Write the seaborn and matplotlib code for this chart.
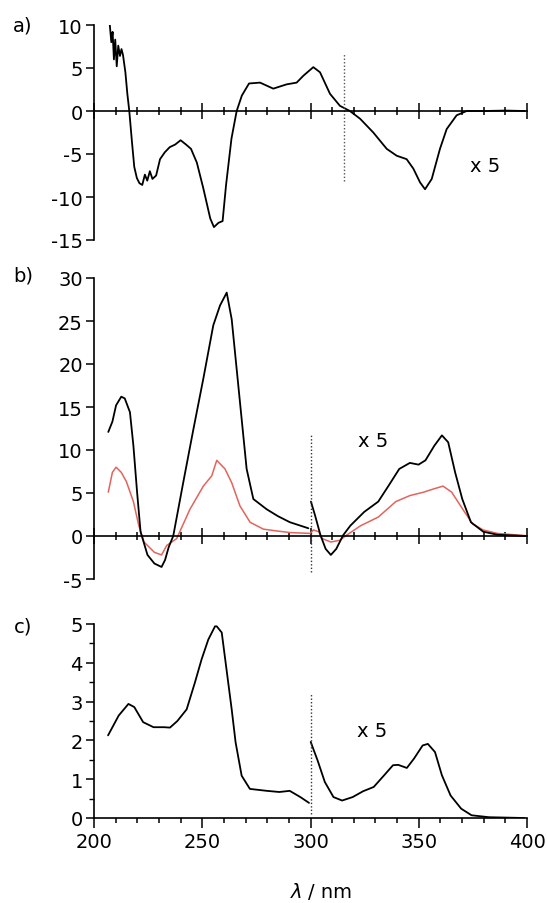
import matplotlib
matplotlib.use("Agg")
import matplotlib.pyplot as plt
import seaborn as sns
from matplotlib.ticker import MultipleLocator

sns.set_theme(style="white")
plt.rcParams['font.family'] = ['DejaVu Sans']
plt.rcParams['axes.unicode_minus'] = False
for k in ("text.color", "axes.labelcolor", "xtick.color", "ytick.color", "axes.edgecolor"):
    plt.rcParams[k] = "black"

# ---------------- data ----------------
# panel a (CD, x5 beyond 316 nm)
a_nm = [207.3, 208.0, 208.6, 209.2, 209.8, 210.5, 211.2, 212.0, 212.7, 213.4, 214.5, 215.4, 216.3,
        217.5, 218.6, 219.8, 221.0, 222.3, 223.5, 224.6, 225.8, 227.0, 228.7, 230.5, 232.7, 235.0,
        237.5, 240.0, 242.5, 244.8, 247.5, 250.5, 253.7, 255.4, 257.5, 259.4, 261.0, 263.5, 265.9,
        268.3, 271.6, 276.7, 282.8, 289.0, 293.6, 296.7, 301.3, 304.4, 309.0, 313.6, 318.2, 322.9,
        329.0, 335.2, 339.8, 344.4, 347.5, 350.6, 352.9, 356.0, 359.8, 362.9, 367.5, 372.1,
        380.0, 390.0, 399.0]
a_val = [10.0, 8.0, 9.2, 6.0, 8.3, 5.2, 7.6, 6.4, 7.2, 6.5, 4.5, 2.0, 0.0,
         -3.5, -6.5, -7.8, -8.4, -8.6, -7.4, -8.1, -7.0, -7.9, -7.5, -5.6, -4.8, -4.2,
         -3.9, -3.4, -3.9, -4.4, -6.0, -9.0, -12.5, -13.5, -13.0, -12.8, -8.6, -3.2, 0.0,
         1.8, 3.2, 3.3, 2.6, 3.1, 3.3, 4.1, 5.1, 4.5, 2.0, 0.6, 0.0, -0.9,
         -2.5, -4.4, -5.2, -5.6, -6.7, -8.3, -9.1, -7.9, -4.4, -2.1, -0.5, 0.0,
         0.0, 0.05, 0.0]

# panel b black
b1_nm = [206.6, 208.5, 210.2, 212.6, 214.2, 216.6, 218.2, 219.9, 221.5, 224.7, 227.9, 231.2,
         232.8, 234.5, 236.6, 241.2, 245.9, 250.5, 255.1, 258.2, 261.3, 263.6, 265.9, 268.2,
         270.5, 273.6, 279.8, 285.0, 290.5, 299.0]
b1_val = [12.1, 13.3, 15.2, 16.2, 16.0, 14.4, 10.5, 5.1, 0.5, -2.2, -3.2, -3.6,
          -2.8, -1.3, 0.0, 6.2, 12.4, 18.3, 24.5, 26.8, 28.3, 25.2, 19.4, 13.6,
          7.8, 4.3, 3.1, 2.3, 1.6, 0.9]
b2_nm = [300.2, 302.1, 304.6, 307.0, 309.4, 311.9, 315.1, 318.4, 324.8, 331.3, 336.2, 341.0,
         345.9, 349.9, 353.1, 357.2, 360.7, 363.6, 366.8, 370.1, 374.1, 379.8, 386.3, 399.2]
b2_val = [4.0, 2.4, 0.1, -1.5, -2.2, -1.5, 0.1, 1.2, 2.8, 4.0, 5.9, 7.8,
          8.5, 8.3, 8.8, 10.5, 11.7, 10.9, 7.4, 4.3, 1.6, 0.5, 0.15, 0.0]
# panel b red
r_nm = [206.6, 208.5, 210.2, 212.6, 215.0, 218.2, 220.7, 223.1, 227.9, 231.2, 233.6, 238.2,
        244.3, 250.5, 254.4, 256.7, 260.5, 263.6, 267.4, 272.1, 278.2, 284.0, 290.5,
        299.8, 301.4, 303.8, 305.4, 309.4, 313.5, 316.7, 323.2, 331.3, 339.4, 345.9, 352.3,
        357.2, 361.2, 365.2, 370.1, 374.9, 379.8, 386.3, 399.2]
r_val = [5.1, 7.4, 8.0, 7.4, 6.3, 4.0, 1.2, -0.7, -1.9, -2.2, -1.1, -0.3,
         3.1, 5.8, 7.0, 8.8, 7.8, 6.2, 3.5, 1.6, 0.8, 0.6, 0.4,
         0.3, 0.7, 0.5, -0.3, -0.7, -0.5, 0.1, 1.2, 2.2, 4.0, 4.7, 5.1,
         5.5, 5.8, 5.1, 3.2, 1.4, 0.7, 0.3, 0.05]

# panel c (absorption)
c1_nm = [206.5, 211.4, 215.9, 218.6, 222.7, 227.5, 232.4, 235.1, 238.5, 242.8, 246.6, 249.7,
         252.8, 255.9, 256.7, 259.0, 261.6, 263.6, 265.4, 268.2, 272.0, 279.8, 285.6, 290.4,
         295.3, 299.3]
c1_val = [2.13, 2.64, 2.94, 2.86, 2.47, 2.34, 2.34, 2.33, 2.50, 2.80, 3.49, 4.09,
          4.60, 4.94, 4.94, 4.78, 3.66, 2.80, 1.95, 1.09, 0.75, 0.70, 0.67, 0.70,
          0.54, 0.39]
c2_nm = [300.1, 303.3, 306.6, 310.6, 314.6, 319.5, 324.3, 329.2, 334.0, 338.1, 340.5, 344.5,
         347.8, 351.8, 354.2, 357.5, 360.7, 364.7, 369.6, 374.4, 382.5, 398.7]
c2_val = [1.96, 1.48, 0.93, 0.54, 0.45, 0.54, 0.69, 0.80, 1.10, 1.36, 1.37, 1.29,
          1.53, 1.87, 1.91, 1.70, 1.10, 0.58, 0.24, 0.07, 0.02, 0.0]

x_ticks = [200, 250, 300, 350, 400]
panel_labels = ["a)", "b)", "c)"]
scale_text = "x 5"

# ---------------- figure ----------------
W, H = 548, 904
fig = plt.figure(figsize=(W / 100, H / 100), dpi=100)

def ax_at(left, top, right, bottom):
    return fig.add_axes([left / W, 1 - bottom / H, (right - left) / W, (bottom - top) / H])

XL, XR = 94, 527
ax_a = ax_at(XL, 26, XR, 241)
ax_b = ax_at(XL, 279, XR, 580)
ax_c = ax_at(XL, 625, XR, 819)

lw = 1.3
FS = 14

sns.lineplot(x=a_nm, y=a_val, ax=ax_a, color="black", lw=lw, sort=False, estimator=None)
sns.lineplot(x=r_nm, y=r_val, ax=ax_b, color="#e2645c", lw=1.1, sort=False, estimator=None)
sns.lineplot(x=b1_nm, y=b1_val, ax=ax_b, color="black", lw=lw, sort=False, estimator=None)
sns.lineplot(x=b2_nm, y=b2_val, ax=ax_b, color="black", lw=lw, sort=False, estimator=None)
sns.lineplot(x=c1_nm, y=c1_val, ax=ax_c, color="black", lw=lw, sort=False, estimator=None)
sns.lineplot(x=c2_nm, y=c2_val, ax=ax_c, color="black", lw=lw, sort=False, estimator=None)

# dotted separators
ax_a.vlines(315.5, -8.1, 6.6, colors="#555555", linestyles=(0, (1, 1.5)), lw=1)
ax_b.vlines(300, -4.2, 11.7, colors="#333333", linestyles=(0, (1, 1.5)), lw=1)
ax_c.vlines(300, 0.1, 3.2, colors="#333333", linestyles=(0, (1, 1.5)), lw=1)

# "x 5" annotations
ax_a.text(380.6, -6.3, scale_text, fontsize=FS, ha="center", va="center")
ax_b.text(328.8, 11.1, scale_text, fontsize=FS, ha="center", va="center")
ax_c.text(328.3, 2.26, scale_text, fontsize=FS, ha="center", va="center")

for ax, (ylo, yhi), step in [(ax_a, (-15, 10), 5), (ax_b, (-5, 30), 5), (ax_c, (0, 5), 1)]:
    ax.set_xlim(200, 400)
    ax.set_ylim(ylo, yhi)
    ax.set_facecolor("none")
    ax.spines["top"].set_visible(False)
    ax.spines["right"].set_visible(False)
    for s in ("left", "bottom"):
        ax.spines[s].set_color("black")
        ax.spines[s].set_linewidth(1.2)
    ax.xaxis.set_major_locator(MultipleLocator(50))
    ax.xaxis.set_minor_locator(MultipleLocator(10))
    ax.yaxis.set_major_locator(MultipleLocator(step))
    ax.set_xlabel("")
    ax.set_ylabel("")
    ax.tick_params(axis="y", which="major", direction="out", length=6, width=1.1,
                   labelsize=FS, pad=2, left=True)
    ax.tick_params(axis="x", which="both", bottom=True)

for ax in (ax_a, ax_b):
    ax.spines["bottom"].set_position(("data", 0))
    ax.tick_params(axis="x", which="major", direction="inout", length=12, width=1.1, labelbottom=False)
    ax.tick_params(axis="x", which="minor", direction="inout", length=6, width=1.1)

ax_c.yaxis.set_minor_locator(MultipleLocator(0.5))
ax_c.tick_params(axis="y", which="minor", direction="out", length=3.5, width=1.0, left=True)
ax_c.tick_params(axis="x", which="major", direction="out", length=7, width=1.1, labelsize=FS, pad=3)
ax_c.tick_params(axis="x", which="minor", direction="out", length=3.5, width=1.1)
ax_c.set_xticks(x_ticks)
ax_c.set_xticklabels([str(t) for t in x_ticks])

# panel labels
for lab, ypix in zip(panel_labels, [26, 276, 627]):
    fig.text(23 / W, 1 - ypix / H, lab, fontsize=FS, ha="center", va="center")

# x-axis label: italic lambda + "/ nm"
fig.text(302 / W, 1 - 893 / H, "λ", fontsize=FS, style="italic", ha="right", va="center")
fig.text(308 / W, 1 - 893 / H, "/ nm", fontsize=FS, ha="left", va="center")

fig.savefig("out.png", dpi=100)
